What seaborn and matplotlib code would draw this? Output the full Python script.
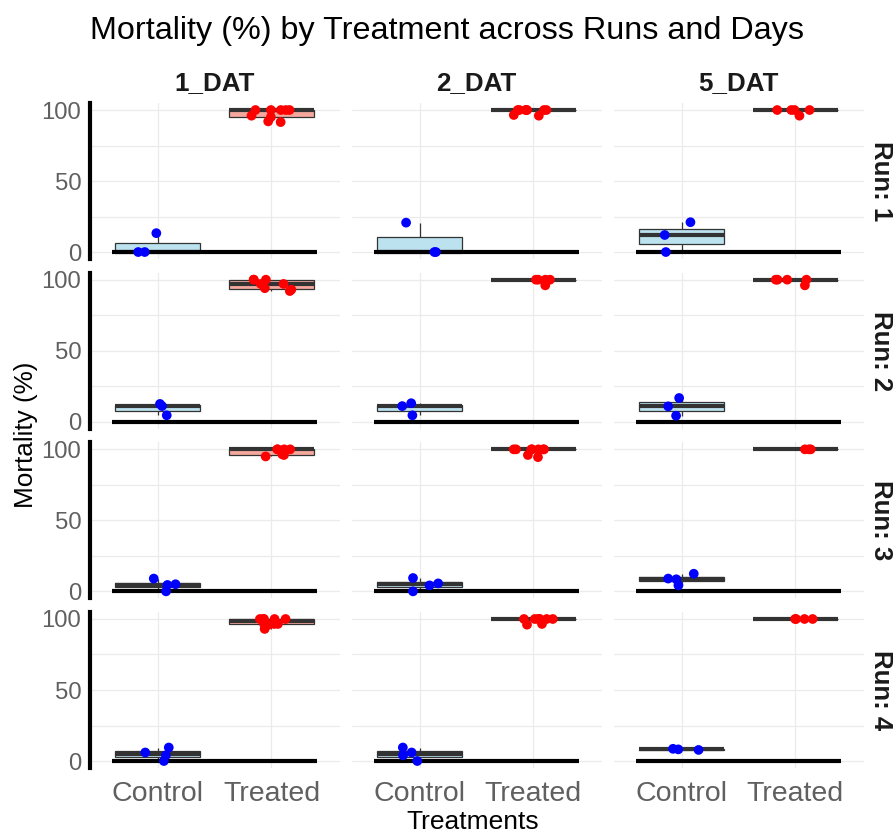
import numpy as np
import pandas as pd
import seaborn as sns
import matplotlib.pyplot as plt

# ---- data -------------------------------------------------------------
runs = ["1", "2", "3", "4"]
days = ["1_DAT", "2_DAT", "5_DAT"]
treatments = ["Control", "Treated"]

# Mortality (%) per replicate, by run and day
run1_dat1_control = [0, 0, 13.3]
run1_dat1_treated = [91.5, 92, 95, 96, 100, 100, 100, 100, 100]
run1_dat2_control = [0, 0, 20.7]
run1_dat2_treated = [96, 96.5, 100, 100, 100, 100, 100, 100, 100]
run1_dat5_control = [0, 12, 21]
run1_dat5_treated = [96, 100, 100, 100, 100]

run2_dat1_control = [4.5, 11, 12.5]
run2_dat1_treated = [92, 93, 94, 97, 97, 100, 100, 100]
run2_dat2_control = [4.5, 11, 13]
run2_dat2_treated = [96, 100, 100, 100, 100]
run2_dat5_control = [4.2, 10.8, 16.7]
run2_dat5_treated = [96, 100, 100, 100, 100]

run3_dat1_control = [0, 4.5, 5, 9]
run3_dat1_treated = [95, 96, 96.5, 100, 100, 100, 100]
run3_dat2_control = [0, 4.2, 5.6, 9.4]
run3_dat2_treated = [94.5, 96, 100, 100, 100, 100, 100, 100, 100]
run3_dat5_control = [4.2, 8.5, 9, 12.4]
run3_dat5_treated = [100, 100, 100]

run4_dat1_control = [0, 4, 6, 9.5]
run4_dat1_treated = [93, 96, 96.5, 96.5, 96.5, 100, 100, 100, 100, 100]
run4_dat2_control = [0, 4, 6, 9.5]
run4_dat2_treated = [96, 96.5, 100, 100, 100, 100, 100, 100, 100]
run4_dat5_control = [7.8, 8.2, 8.6]
run4_dat5_treated = [100, 100, 100, 100]

series = {
    ("1", "1_DAT"): (run1_dat1_control, run1_dat1_treated),
    ("1", "2_DAT"): (run1_dat2_control, run1_dat2_treated),
    ("1", "5_DAT"): (run1_dat5_control, run1_dat5_treated),
    ("2", "1_DAT"): (run2_dat1_control, run2_dat1_treated),
    ("2", "2_DAT"): (run2_dat2_control, run2_dat2_treated),
    ("2", "5_DAT"): (run2_dat5_control, run2_dat5_treated),
    ("3", "1_DAT"): (run3_dat1_control, run3_dat1_treated),
    ("3", "2_DAT"): (run3_dat2_control, run3_dat2_treated),
    ("3", "5_DAT"): (run3_dat5_control, run3_dat5_treated),
    ("4", "1_DAT"): (run4_dat1_control, run4_dat1_treated),
    ("4", "2_DAT"): (run4_dat2_control, run4_dat2_treated),
    ("4", "5_DAT"): (run4_dat5_control, run4_dat5_treated),
}

rows = []
for (run, day), (ctrl, trt) in series.items():
    for v in ctrl:
        rows.append({"Run": run, "Day": day, "Treatment": "Control", "Mortality": v})
    for v in trt:
        rows.append({"Run": run, "Day": day, "Treatment": "Treated", "Mortality": v})
df = pd.DataFrame(rows)

# ---- style ------------------------------------------------------------
sns.set_style("white")
plt.rcParams["font.family"] = ["Liberation Sans", "DejaVu Sans"]

box_fill = {"Control": "#BCE2F0", "Treated": "#F5A89D"}
point_col = {"Control": "#0000FF", "Treated": "#FF0000"}
grid_col = "#EBEBEB"
tick_col = "#606060"
np.random.seed(11)

W, H = 893, 834
fig = plt.figure(figsize=(W / 100, H / 100), dpi=100)
axes = fig.subplots(
    len(runs), len(days), sharex=True, sharey=True,
    gridspec_kw=dict(left=0.1004, right=0.967, top=0.8766, bottom=0.079,
                     wspace=0.048, hspace=0.086),
)

ncat = len(treatments)
for i, run in enumerate(runs):
    for j, day in enumerate(days):
        ax = axes[i, j]
        sub = df[(df["Run"] == run) & (df["Day"] == day)]
        sns.boxplot(
            data=sub, x="Treatment", y="Mortality", order=treatments,
            hue="Treatment", hue_order=treatments, palette=box_fill,
            saturation=1, width=0.75, linecolor="#333333", linewidth=0.9,
            showfliers=False, showcaps=False, legend=False, ax=ax,
            medianprops=dict(linewidth=3.0, color="#333333",
                             solid_capstyle="butt"),
        )
        # baseline at zero spanning the boxes
        ax.hlines(0, -0.4, ncat - 0.6, color="black", linewidth=3,
                  zorder=2.5)
        sns.stripplot(
            data=sub, x="Treatment", y="Mortality", order=treatments,
            hue="Treatment", hue_order=treatments, palette=point_col,
            jitter=0.18, size=7, linewidth=0, legend=False, ax=ax,
            zorder=4,
        )
        ax.set_xlim(-0.6, ncat - 0.4)
        ax.set_ylim(-5, 105)
        ax.set_yticks([0, 50, 100])
        ax.set_yticks([25, 75], minor=True)
        ax.set_axisbelow(True)
        ax.grid(True, which="both", axis="y", color=grid_col, linewidth=0.9)
        ax.grid(True, which="major", axis="x", color=grid_col, linewidth=0.9)
        ax.set_xlabel("")
        ax.set_ylabel("")
        for s in ["top", "right", "bottom", "left"]:
            ax.spines[s].set_visible(False)
        ax.tick_params(axis="x", length=0, pad=9, labelsize=20.5,
                       labelcolor=tick_col)
        ax.tick_params(which="minor", length=0)
        if j == 0:
            ax.spines["left"].set_visible(True)
            ax.spines["left"].set_color("black")
            ax.spines["left"].set_linewidth(3)
            ax.tick_params(axis="y", length=4, width=1.3, color="black",
                           pad=2, labelsize=17.2, labelcolor=tick_col)
        else:
            ax.tick_params(axis="y", length=0, labelleft=False)
        if i < len(runs) - 1:
            ax.tick_params(axis="x", labelbottom=False)

        pos = ax.get_position()
        if i == 0:
            fig.text((pos.x0 + pos.x1) / 2, 1 - 90.5 / H, day,
                     ha="center", va="baseline", fontsize=18.7,
                     fontweight="bold", color="#1a1a1a")
        if j == len(days) - 1:
            fig.text(881 / W, (pos.y0 + pos.y1) / 2, f"Run: {run}",
                     ha="center", va="center", rotation=-90, fontsize=18.5,
                     fontweight="bold", color="#1a1a1a")

fig.text(0.5, 1 - 38.5 / H, "Mortality (%) by Treatment across Runs and Days",
         ha="center", va="baseline", fontsize=23.3, color="black")
fig.text(26 / W, 1 - 435 / H, "Mortality (%)", ha="center", va="center",
         rotation=90, fontsize=18.8, color="black")
fig.text(473 / W, 1 - 810 / H, "Treatments", ha="center", va="top",
         fontsize=19, color="black")

fig.savefig("out.png", dpi=100)
